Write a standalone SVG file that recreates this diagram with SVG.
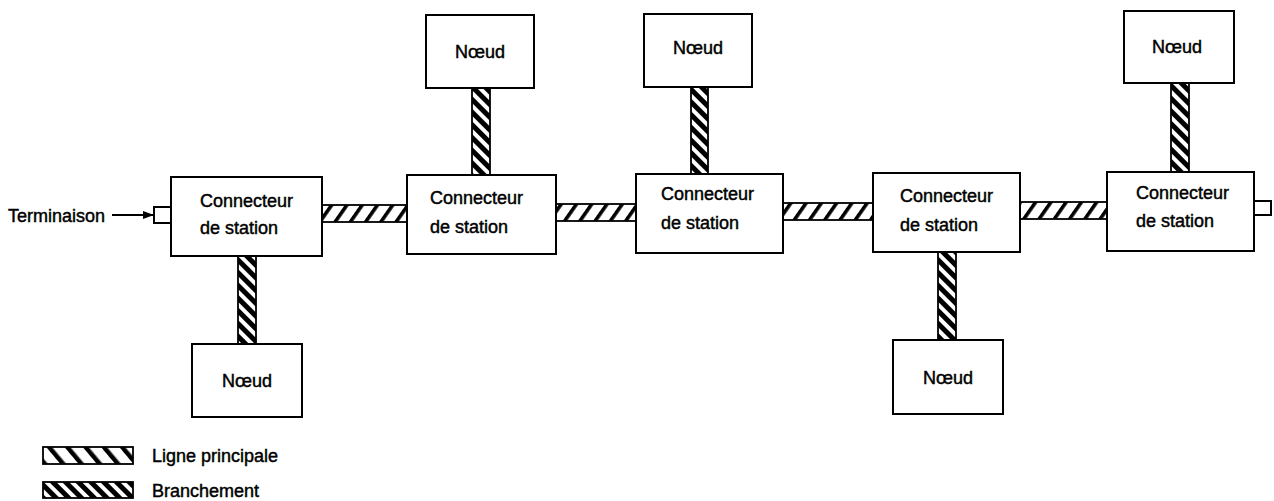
<svg xmlns="http://www.w3.org/2000/svg" width="1274" height="501" viewBox="0 0 1274 501">
<style>
.box{fill:#fff;stroke:#000;stroke-width:2}
.main{fill:url(#hMain);stroke:#000;stroke-width:1.8}
.br{fill:url(#hBr);stroke:#000;stroke-width:1.8}
.lgm{fill:url(#hLeg);stroke:#000;stroke-width:1.8}
.t{font-family:"Liberation Sans",Arial,sans-serif;font-size:18px;fill:#000;stroke:#000;stroke-width:0.45}
</style>
<defs>
<pattern id="hMain" patternUnits="userSpaceOnUse" width="12.5" height="12.5" patternTransform="rotate(35)">
<rect width="12.5" height="12.5" fill="#fff"/><rect width="3.6" height="12.5" fill="#000"/>
</pattern>
<pattern id="hBr" patternUnits="userSpaceOnUse" width="9" height="9" patternTransform="rotate(-45)">
<rect width="9" height="9" fill="#fff"/><rect width="5" height="9" fill="#000"/>
</pattern>
<pattern id="hLeg" patternUnits="userSpaceOnUse" width="14" height="14" patternTransform="rotate(-40)">
<rect width="14" height="14" fill="#fff"/><rect width="4.5" height="14" fill="#000"/>
</pattern>
<marker id="arr" markerWidth="11" markerHeight="8" refX="10" refY="4" orient="auto" markerUnits="userSpaceOnUse">
<path d="M0,0 L11,4 L0,8 Z" fill="#000"/>
</marker>
</defs>
<g id="connectors">
<rect class="main" x="322" y="205" width="85" height="17"/>
<rect class="main" x="556" y="204" width="80" height="17"/>
<rect class="main" x="783" y="203" width="90" height="17"/>
<rect class="main" x="1020" y="202" width="87" height="17"/>
<rect class="br" x="238" y="256" width="18" height="88"/>
<rect class="br" x="472" y="88" width="18" height="87"/>
<rect class="br" x="691" y="87" width="17" height="87"/>
<rect class="br" x="938" y="252" width="18" height="88"/>
<rect class="br" x="1171" y="83" width="18" height="89"/>
<line x1="112" y1="215" x2="153" y2="215" stroke="#000" stroke-width="2" marker-end="url(#arr)"/>
</g>
<g id="term-left"><rect class="box" x="154" y="207" width="17" height="16"/></g>
<g id="term-right"><rect class="box" x="1254" y="201" width="17" height="14"/></g>
<g id="terminaison-label"><text class="t" x="8" y="222">Terminaison</text></g>
<g id="sc1"><rect class="box" x="171" y="177" width="151" height="79"/>
<text class="t" x="200" y="207">Connecteur</text><text class="t" x="200" y="234">de station</text></g>
<g id="sc2"><rect class="box" x="407" y="175" width="149" height="79"/>
<text class="t" x="430" y="204">Connecteur</text><text class="t" x="430" y="233">de station</text></g>
<g id="sc3"><rect class="box" x="636" y="174" width="147" height="79"/>
<text class="t" x="661" y="200">Connecteur</text><text class="t" x="661" y="229">de station</text></g>
<g id="sc4"><rect class="box" x="873" y="173" width="147" height="79"/>
<text class="t" x="900" y="202">Connecteur</text><text class="t" x="900" y="231">de station</text></g>
<g id="sc5"><rect class="box" x="1107" y="172" width="147" height="79"/>
<text class="t" x="1136" y="199">Connecteur</text><text class="t" x="1136" y="227">de station</text></g>
<g id="n1"><rect class="box" x="192" y="344" width="110" height="73"/><text class="t" x="247" y="387" text-anchor="middle">Nœud</text></g>
<g id="n2"><rect class="box" x="426" y="15" width="108" height="73"/><text class="t" x="480" y="58" text-anchor="middle">Nœud</text></g>
<g id="n3"><rect class="box" x="644" y="14" width="108" height="73"/><text class="t" x="698" y="54" text-anchor="middle">Nœud</text></g>
<g id="n4"><rect class="box" x="893" y="340" width="110" height="74"/><text class="t" x="948" y="384" text-anchor="middle">Nœud</text></g>
<g id="n5"><rect class="box" x="1124" y="11" width="110" height="72"/><text class="t" x="1177" y="53" text-anchor="middle">Nœud</text></g>
<g id="legend">
<rect class="lgm" x="43" y="447" width="90" height="17"/>
<text class="t" x="152" y="462">Ligne principale</text>
<rect class="br" x="43" y="482" width="90" height="16"/>
<text class="t" x="152" y="497">Branchement</text>
</g>
</svg>
